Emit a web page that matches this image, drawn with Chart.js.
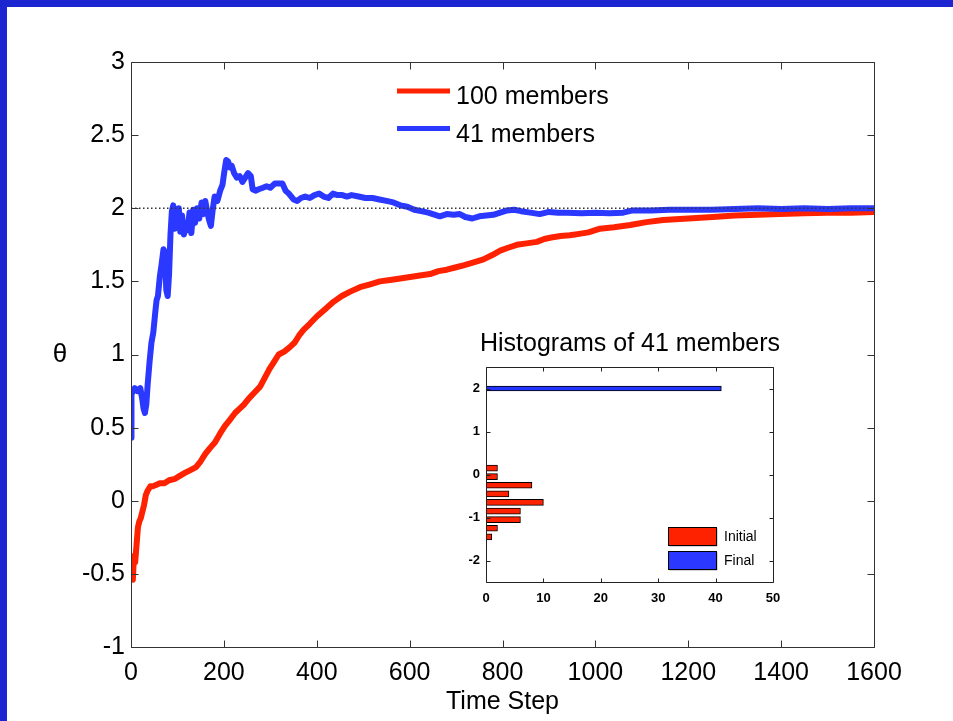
<!DOCTYPE html>
<html><head><meta charset="utf-8">
<script src="https://cdn.jsdelivr.net/npm/chart.js@4.4.1/dist/chart.umd.min.js"></script>
<style>
html,body{margin:0;padding:0;background:#fff;overflow:hidden;}
#wrap{position:relative;width:953px;height:721px;background:#fff;}
#main{position:absolute;left:0;top:0;}
#inset{position:absolute;left:440px;top:316px;}
#bt{position:absolute;left:0;top:0;width:953px;height:7px;background:#1c26d0;}
#bl{position:absolute;left:0;top:0;width:7px;height:721px;background:#1c26d0;}
</style></head><body>
<div id="wrap">
<canvas id="main" width="953" height="721"></canvas>
<canvas id="inset" width="360" height="300"></canvas>
<div id="bt"></div><div id="bl"></div>
</div>
<script>
// ---------- data ----------
const seriesNames = ['100 members', '41 members'];

const redSteps = [0,2,4,6,9,12,15,18,21,24,28,32,36,42,48,55,62,72,82,95,105,116,128,140,150,160,170,181,192,202,212,224,234,244,254,266,278,288,298,308,318,330,342,352,362,372,385,400,418,436,454,472,493,515,536,558,580,601,622,644,662,680,698,716,738,759,778,795,812,831,852,874,890,905,925,945,965,985,1010,1040,1075,1110,1146,1200,1253,1300,1350,1398,1450,1500,1550,1600];
const redTheta = [-0.50,-0.38,-0.54,-0.40,-0.42,-0.30,-0.18,-0.14,-0.12,-0.08,-0.03,0.04,0.07,0.10,0.10,0.11,0.12,0.12,0.14,0.15,0.17,0.19,0.21,0.23,0.27,0.32,0.36,0.40,0.46,0.51,0.55,0.60,0.63,0.66,0.70,0.74,0.78,0.84,0.90,0.95,1.00,1.02,1.05,1.08,1.13,1.17,1.21,1.26,1.31,1.36,1.40,1.43,1.46,1.48,1.50,1.51,1.52,1.53,1.54,1.55,1.57,1.58,1.595,1.61,1.63,1.65,1.68,1.71,1.73,1.75,1.76,1.77,1.79,1.80,1.81,1.815,1.825,1.835,1.86,1.87,1.885,1.905,1.92,1.93,1.94,1.95,1.955,1.96,1.965,1.97,1.97,1.975];

const blueSteps = [0,1,3,8,14,20,24,27,30,33,36,40,44,48,52,55,58,62,66,70,73,76,79,82,85,88,91,94,97,100,103,106,110,114,118,122,126,130,134,138,142,147,152,156,160,164,168,172,176,180,186,192,197,201,205,209,213,217,222,228,234,240,246,252,258,262,268,275,284,292,300,310,318,326,333,340,350,358,366,375,385,395,405,415,425,435,445,455,465,475,490,505,520,535,550,565,580,595,610,625,640,655,665,680,695,708,720,735,750,765,780,795,810,825,840,860,880,900,920,940,970,1000,1030,1060,1080,1120,1160,1200,1250,1300,1350,1400,1450,1500,1550,1600];
const blueTheta = [0.43,0.76,0.74,0.77,0.75,0.77,0.70,0.63,0.60,0.66,0.80,0.95,1.08,1.15,1.28,1.37,1.40,1.53,1.62,1.72,1.70,1.44,1.40,1.55,1.82,1.98,2.02,1.86,1.98,1.87,2.00,1.84,1.95,1.82,1.90,1.85,1.97,1.83,1.99,1.90,2.00,1.93,2.04,1.96,2.05,1.98,1.92,1.88,1.99,2.08,2.05,2.12,2.16,2.25,2.33,2.32,2.28,2.29,2.24,2.21,2.22,2.18,2.21,2.24,2.22,2.13,2.12,2.13,2.14,2.15,2.14,2.17,2.17,2.17,2.12,2.10,2.06,2.05,2.07,2.08,2.07,2.09,2.10,2.08,2.07,2.10,2.09,2.09,2.08,2.09,2.08,2.07,2.07,2.06,2.05,2.04,2.02,2.01,1.99,1.98,1.97,1.955,1.945,1.96,1.955,1.96,1.94,1.93,1.945,1.95,1.955,1.97,1.985,1.99,1.98,1.97,1.96,1.975,1.97,1.97,1.965,1.97,1.965,1.97,1.985,1.985,1.99,1.99,1.99,1.995,2.0,1.995,2.0,1.995,2.0,2.0];

const targetSteps = [0, 1600];
const targetTheta = [2, 2];

const xTickValues = [0,200,400,600,800,1000,1200,1400,1600];
const xTickLabels = ['0','200','400','600','800','1000','1200','1400','1600'];
const yTickValues = [-1,-0.5,0,0.5,1,1.5,2,2.5,3];
const yTickLabels = ['-1','-0.5','0','0.5','1','1.5','2','2.5','3'];

// inset histogram
const histNames = ['Initial', 'Final'];
const initialBins = [0.15,-0.05,-0.25,-0.45,-0.65,-0.85,-1.05,-1.25,-1.45];
const initialCounts = [2,2,8,4,10,6,6,2,1];
const finalBins = [2];
const finalCounts = [41];
const insetXTickValues = [0,10,20,30,40,50];
const insetXTickLabels = ['0','10','20','30','40','50'];
const insetYTickValues = [-2,-1,0,1,2];
const insetYTickLabels = ['-2','-1','0','1','2'];
const insetTitle = 'Histograms of 41 members';
const yAxisTitle = 'θ';
const xAxisTitle = 'Time Step';

// ---------- styling ----------
const FONT = '"Liberation Sans", Arial, Helvetica, sans-serif';
const RED = '#ff2200';
const BLUE = '#2b38ff';

function pts(xs, ys){ return xs.map((x,i)=>({x:x, y:ys[i]})); }

function frameTicksPlugin(len, color){
  return {
    id:'frameTicks',
    afterDatasetsDraw(chart){
      const {ctx, chartArea:a, scales} = chart;
      const x = scales.x, y = scales.y;
      const L = Math.round(a.left)+0.5, R = Math.round(a.right)+0.5;
      const T = Math.round(a.top)+0.5, B = Math.round(a.bottom)+0.5;
      ctx.save();
      ctx.strokeStyle = color; ctx.lineWidth = 1;
      ctx.beginPath();
      ctx.moveTo(L,T); ctx.lineTo(R,T); ctx.lineTo(R,B); ctx.lineTo(L,B); ctx.closePath();
      x.ticks.forEach(t=>{
        const px = Math.round(x.getPixelForValue(t.value))+0.5;
        ctx.moveTo(px,B); ctx.lineTo(px,B-len);
        ctx.moveTo(px,T); ctx.lineTo(px,T+len);
      });
      y.ticks.forEach(t=>{
        const py = Math.round(y.getPixelForValue(t.value))+0.5;
        ctx.moveTo(L,py); ctx.lineTo(L+len,py);
        ctx.moveTo(R,py); ctx.lineTo(R-len,py);
      });
      ctx.stroke();
      ctx.restore();
    }
  };
}

const mainDecor = {
  id:'mainDecor',
  afterDraw(chart){
    const ctx = chart.ctx;
    ctx.save();
    // y axis label
    ctx.fillStyle = '#000';
    ctx.font = '26px ' + FONT;
    ctx.textAlign = 'center'; ctx.textBaseline = 'middle';
    ctx.fillText(yAxisTitle, 60, 355);
    // legend
    const items = [
      {name: seriesNames[0], color: RED, ly: 91, ty: 104},
      {name: seriesNames[1], color: BLUE, ly: 128.5, ty: 141.5}
    ];
    ctx.font = '25px ' + FONT;
    ctx.textAlign = 'left'; ctx.textBaseline = 'alphabetic';
    items.forEach(it=>{
      ctx.strokeStyle = it.color; ctx.lineWidth = 5;
      ctx.beginPath(); ctx.moveTo(397, it.ly); ctx.lineTo(450, it.ly); ctx.stroke();
      ctx.fillStyle = '#000';
      ctx.fillText(it.name, 456, it.ty);
    });
    ctx.restore();
  }
};

new Chart(document.getElementById('main'), {
  type:'line',
  data:{datasets:[
    {label:'target', data: pts(targetSteps, targetTheta), borderColor:'#333', borderWidth:1.5, borderDash:[1.5,2.5], pointRadius:0, order:0},
    {label: seriesNames[0], data: pts(redSteps, redTheta), borderColor: RED, borderWidth:6, pointRadius:0, borderJoinStyle:'round', order:2},
    {label: seriesNames[1], data: pts(blueSteps, blueTheta), borderColor: BLUE, borderWidth:6, pointRadius:0, borderJoinStyle:'round', order:1}
  ]},
  options:{
    responsive:false, animation:false, events:[],
    layout:{padding:{left:0, right:79, top:62, bottom:0}},
    plugins:{legend:{display:false}, tooltip:{enabled:false}},
    scales:{
      x:{type:'linear', min:0, max:1600,
        afterBuildTicks(s){ s.ticks = xTickValues.map(v=>({value:v})); },
        ticks:{color:'#000', font:{family:FONT, size:25}, padding:11, maxRotation:0, autoSkip:false,
          callback:(v,i)=>xTickLabels[i]},
        grid:{display:false, drawTicks:false}, border:{display:false},
        title:{display:true, text:xAxisTitle, color:'#000', font:{family:FONT, size:25}, padding:{top:0, bottom:4}},
        afterFit(s){ s.height = 74; }
      },
      y:{type:'linear', min:-1, max:3,
        afterBuildTicks(s){ s.ticks = yTickValues.map(v=>({value:v})); },
        ticks:{color:'#000', font:{family:FONT, size:25}, padding:6, autoSkip:false,
          callback:(v,i)=>yTickLabels[i]},
        grid:{display:false, drawTicks:false}, border:{display:false},
        afterFit(s){ s.width = 131; }
      }
    }
  },
  plugins:[frameTicksPlugin(7, '#333'), mainDecor]
});

// ---------- inset ----------
const insetDecor = {
  id:'insetDecor',
  beforeDraw(chart){
    const {ctx, chartArea:a} = chart;
    ctx.save(); ctx.fillStyle = '#fff';
    ctx.fillRect(a.left, a.top, a.right-a.left, a.bottom-a.top);
    ctx.restore();
  },
  afterDraw(chart){
    const ctx = chart.ctx;
    ctx.save();
    ctx.fillStyle = '#000';
    ctx.font = '25px ' + FONT;
    ctx.textAlign = 'center'; ctx.textBaseline = 'alphabetic';
    ctx.fillText(insetTitle, 190, 35);
    // legend
    const items = [
      {name: histNames[0], color: RED, y: 211},
      {name: histNames[1], color: BLUE, y: 235}
    ];
    ctx.font = '14px ' + FONT;
    ctx.textAlign = 'left'; ctx.textBaseline = 'middle';
    items.forEach(it=>{
      ctx.fillStyle = '#aaa';
      ctx.fillRect(229.5, it.y+1.5, 48, 18);
      ctx.fillStyle = it.color;
      ctx.fillRect(228.5, it.y, 48, 18);
      ctx.strokeStyle = '#000'; ctx.lineWidth = 1;
      ctx.strokeRect(228.5, it.y+0.5, 48, 18);
      ctx.fillStyle = '#000';
      ctx.fillText(it.name, 284, it.y + 10);
    });
    ctx.restore();
  }
};

new Chart(document.getElementById('inset'), {
  type:'bar',
  data:{datasets:[
    {label: histNames[0], data: initialBins.map((b,i)=>({x: initialCounts[i], y: b})), backgroundColor: RED, borderColor:'#000', borderWidth:1, barThickness:6, grouped:false},
    {label: histNames[1], data: finalBins.map((b,i)=>({x: finalCounts[i], y: b})), backgroundColor: '#2233ff', borderColor:'#000', borderWidth:1, barThickness:5, grouped:false}
  ]},
  options:{
    indexAxis:'y', responsive:false, animation:false, events:[],
    layout:{padding:{left:0, right:27, top:51, bottom:0}},
    plugins:{legend:{display:false}, tooltip:{enabled:false}},
    scales:{
      x:{type:'linear', min:0, max:50, offset:false,
        afterBuildTicks(s){ s.ticks = insetXTickValues.map(v=>({value:v})); },
        ticks:{color:'#000', font:{family:FONT, size:13, weight:'bold'}, padding:9, maxRotation:0, autoSkip:false,
          callback:(v,i)=>insetXTickLabels[i]},
        grid:{display:false, drawTicks:false, offset:false}, border:{display:false},
        afterFit(s){ s.height = 34; }
      },
      y:{type:'linear', min:-2.5, max:2.5, offset:false,
        afterBuildTicks(s){ s.ticks = insetYTickValues.map(v=>({value:v})); },
        ticks:{color:'#000', font:{family:FONT, size:13, weight:'bold'}, padding:6, autoSkip:false,
          callback:(v,i)=>insetYTickLabels[i]},
        grid:{display:false, drawTicks:false, offset:false}, border:{display:false},
        afterFit(s){ s.width = 46; }
      }
    }
  },
  plugins:[insetDecor, frameTicksPlugin(4, '#222')]
});
</script>
</body></html>
